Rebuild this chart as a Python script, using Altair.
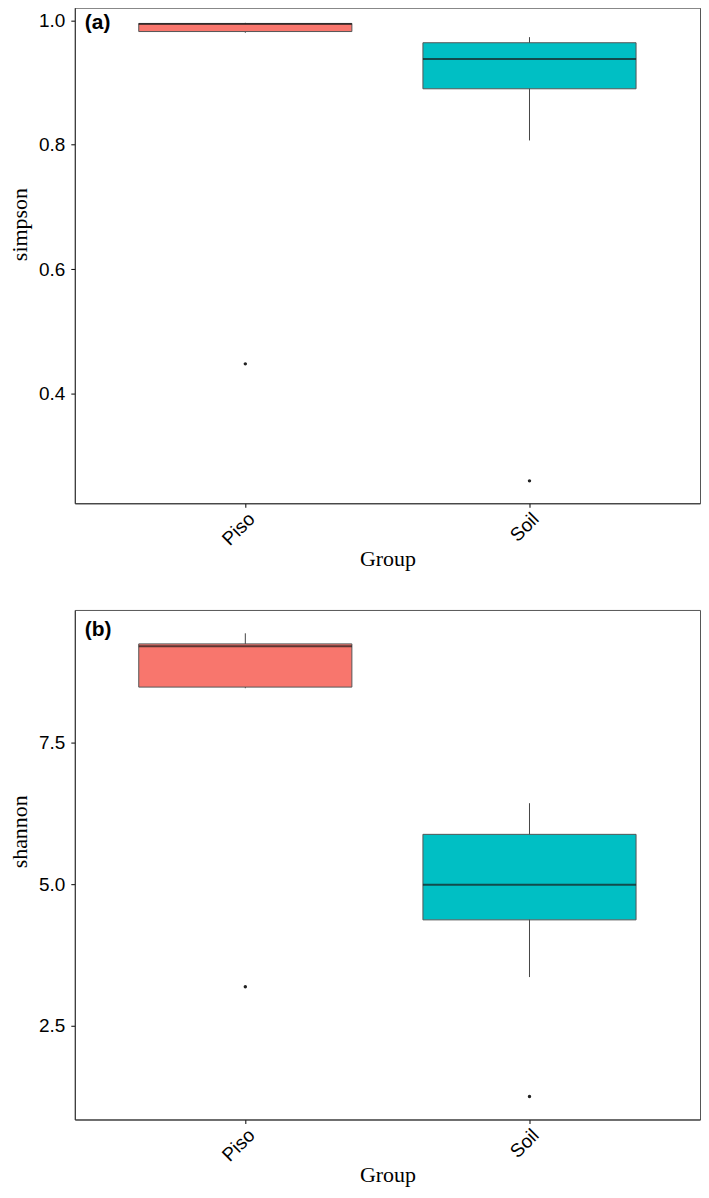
import altair as alt
import pandas as pd

groups = ["Piso", "Soil"]
colors = ["#F8766D", "#00BFC4"]

# panel (a): simpson
simpson_lower = [0.980, 0.807]
simpson_q1 = [0.982, 0.890]
simpson_median = [0.994, 0.938]
simpson_q3 = [0.995, 0.964]
simpson_upper = [0.996, 0.973]
simpson_outliers = [0.448, 0.260]

# panel (b): shannon
shannon_lower = [8.46, 3.36]
shannon_q1 = [8.48, 4.37]
shannon_median = [9.20, 4.99]
shannon_q3 = [9.243, 5.88]
shannon_upper = [9.43, 6.43]
shannon_outliers = [3.19, 1.25]

W = 627
STEP = W / 2.2
BOXW = 0.75 * STEP

SANS = "Liberation Sans"
SERIF = "Liberation Serif"


def panel(lower, q1, med, q3, upper, outl, ytitle, domain, ticks, height, tag, tag_y, title_y):
    stats = pd.DataFrame({"Group": groups, "lower": lower, "q1": q1, "median": med,
                          "q3": q3, "upper": upper})
    outs = pd.DataFrame({"Group": groups, "value": outl})
    xenc = alt.X("Group:N", sort=groups,
                 scale=alt.Scale(paddingInner=0.25, paddingOuter=0.225),
                 axis=alt.Axis(title="Group", labelAngle=-45, labelAlign="right",
                               labelBaseline="top", labelFont=SANS, labelFontSize=19,
                               labelColor="black", tickColor="black", tickSize=4,
                               domainColor="#333", titleFont=SERIF, titleFontSize=22,
                               titleFontWeight="normal", titleColor="black",
                               titlePadding=0, labelPadding=2))
    yscale = alt.Scale(domain=domain, nice=False, zero=False)
    yaxis = alt.Axis(title=ytitle, values=ticks, format=".1f", grid=False,
                     labelFont=SANS, labelFontSize=19, labelColor="black",
                     tickColor="black", tickSize=4, domainColor="#333",
                     titleFont=SERIF, titleFontSize=22, titleFontWeight="normal",
                     titleColor="black", titleY=title_y, titlePadding=7, labelPadding=6)
    base = alt.Chart(stats)
    whisk = base.mark_rule(color="#444", strokeWidth=1).encode(
        x=xenc, y=alt.Y("lower:Q", scale=yscale, axis=yaxis), y2="upper:Q")
    box = base.mark_bar(stroke="#555", strokeWidth=1).encode(
        x=alt.X("Group:N", sort=groups), y=alt.Y("q1:Q"), y2="q3:Q",
        color=alt.Color("Group:N", scale=alt.Scale(domain=groups, range=colors), legend=None))
    mid = base.mark_tick(color="#1a1a1a", thickness=2, size=BOXW).encode(
        x=alt.X("Group:N", sort=groups), y=alt.Y("median:Q"))
    pts = alt.Chart(outs).mark_circle(color="#222", size=12, opacity=1).encode(
        x=alt.X("Group:N", sort=groups), y=alt.Y("value:Q"))
    lab = alt.Chart(pd.DataFrame({"t": [tag]})).mark_text(
        font=SANS, fontSize=21, fontWeight="bold", align="left", baseline="top",
        color="black").encode(text="t:N", x=alt.value(10), y=alt.value(tag_y))
    return alt.layer(whisk, box, mid, pts, lab).properties(width=W, height=height)


pa = panel(simpson_lower, simpson_q1, simpson_median, simpson_q3, simpson_upper,
           simpson_outliers, "simpson", [0.224, 1.0203], [0.4, 0.6, 0.8, 1.0], 497,
           "(a)", 4, 217)
pb = panel(shannon_lower, shannon_q1, shannon_median, shannon_q3, shannon_upper,
           shannon_outliers, "shannon", [0.845, 9.842], [2.5, 5.0, 7.5], 511,
           "(b)", 9, 222)

chart = alt.vconcat(pa, pb, spacing=38).properties(
    padding={"top": -3, "left": 0, "right": 0, "bottom": 0}
).configure(background="white").configure_view(stroke="#555", strokeWidth=1)

chart.save("out.html", embed_options={"renderer": "svg", "actions": False})
